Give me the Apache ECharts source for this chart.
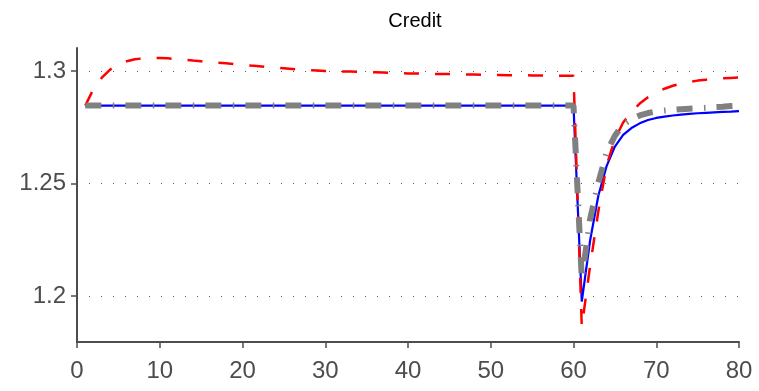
<!DOCTYPE html>
<html>
<head>
<meta charset="utf-8">
<script src="https://cdn.jsdelivr.net/npm/echarts@6/dist/echarts.min.js"></script>
<style>
html,body{margin:0;padding:0;background:#fff;}
#chart{width:759px;height:391px;}
</style>
</head>
<body>
<div id="chart"></div>
<script>
const periods = Array.from({length: 80}, (_, i) => i + 1);
const yTicks = [1.2, 1.25, 1.3];
const xTicks = [0, 10, 20, 30, 40, 50, 60, 70, 80];

// Blue solid
const blueFlat = 1.2846;
const blueTail = [1.1975, 1.2245, 1.2445, 1.2577, 1.2664, 1.2716, 1.2746, 1.2767, 1.2782, 1.2791,
                  1.2797, 1.2802, 1.2806, 1.2809, 1.2812, 1.2814, 1.2816, 1.2818, 1.2819, 1.2821];
// Red dashed
const redHead = [1.2846, 1.2920, 1.2970, 1.3006, 1.3029, 1.3043, 1.3052, 1.3056, 1.3058, 1.3058,
                 1.3056, 1.3053, 1.3050, 1.3046, 1.3043, 1.3040, 1.3037, 1.3034, 1.3031, 1.3028,
                 1.3024, 1.3021, 1.3018, 1.3015, 1.3012, 1.3009, 1.3006, 1.3004, 1.3002, 1.3000,
                 1.2999, 1.2998, 1.2997, 1.2996, 1.2995, 1.2994, 1.2993, 1.2991, 1.2990, 1.2989,
                 1.2989, 1.2988, 1.2987, 1.2986, 1.2986, 1.2985, 1.2984, 1.2984, 1.2983, 1.2982,
                 1.2982, 1.2981, 1.2981, 1.2981, 1.2980, 1.2980, 1.2979, 1.2979, 1.2979, 1.2979];
const redTail = [1.1863, 1.2131, 1.2376, 1.2580, 1.2697, 1.2771, 1.2818, 1.2855, 1.2883, 1.2905,
                 1.2921, 1.2934, 1.2944, 1.2951, 1.2957, 1.2961, 1.2964, 1.2967, 1.2969, 1.2971];
// Gray thick dash-dot
const grayFlat = 1.2846;
const grayTail = [1.2075, 1.2340, 1.2503, 1.2637, 1.2712, 1.2762, 1.2786, 1.2802, 1.2813, 1.2820,
                  1.2824, 1.2827, 1.2830, 1.2832, 1.2834, 1.2836, 1.2839, 1.2841, 1.2844, 1.2846];

const blue = periods.map((t, i) => [t, t <= 60 ? blueFlat : blueTail[t - 61]]);
const red = periods.map((t, i) => [t, t <= 60 ? redHead[i] : redTail[t - 61]]);
const gray = periods.map((t, i) => [t, t <= 60 ? grayFlat : grayTail[t - 61]]);

const axisColor = '#4d4d4d';
const chart = echarts.init(document.getElementById('chart'), null, {renderer: 'canvas'});
chart.setOption({
  animation: false,
  backgroundColor: '#ffffff',
  title: {
    text: 'Credit',
    left: 410, top: 6, textAlign: 'center',
    textStyle: {fontFamily: 'Liberation Sans', fontSize: 20, fontWeight: 'normal', color: '#000'}
  },
  grid: {left: 77, right: 20, top: 48, bottom: 49, containLabel: false},
  xAxis: {
    type: 'value', min: 0, max: 80, interval: 10,
    axisLine: {show: true, onZero: false, lineStyle: {color: axisColor, width: 2}},
    axisTick: {show: true, inside: false, length: 6, lineStyle: {color: axisColor, width: 1.5}},
    axisLabel: {color: axisColor, fontFamily: 'Liberation Sans', fontSize: 24, margin: 17,
      customValues: xTicks},
    splitLine: {show: false}
  },
  yAxis: {
    type: 'value', min: 1.1795, max: 1.3102,
    axisLine: {show: true, onZero: false, lineStyle: {color: axisColor, width: 2}},
    axisTick: {show: true, inside: false, length: 6, lineStyle: {color: axisColor, width: 1.5},
      customValues: yTicks},
    axisLabel: {color: axisColor, fontFamily: 'Liberation Sans', fontSize: 24, margin: 11,
      customValues: yTicks, formatter: v => String(+v.toFixed(4))},
    splitLine: {show: true, lineStyle: {color: '#555', width: 1, type: [1, 11]}}
  },
  series: [
    {type: 'line', data: blue, showSymbol: false, symbol: 'none',
     lineStyle: {color: '#0000ff', width: 2.2}, z: 2},
    {type: 'line', data: red, showSymbol: false, symbol: 'none',
     lineStyle: {color: '#ff0000', width: 2.5, type: [15, 16]}, z: 3},
    {type: 'line', data: gray, showSymbol: false, symbol: 'none',
     lineStyle: {color: '#808080', width: 6, type: [16, 11.5, 1.5, 11]}, z: 4}
  ]
});
</script>
</body>
</html>
